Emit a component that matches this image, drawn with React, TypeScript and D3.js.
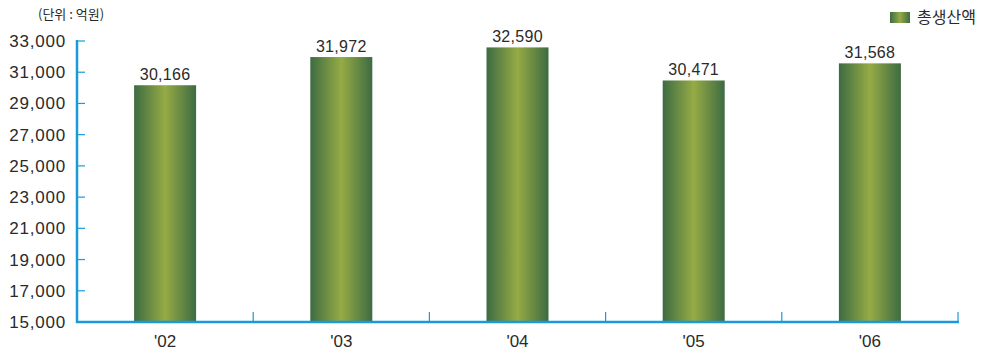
import React from "react";
import * as d3 from "d3";

const years = ["'02", "'03", "'04", "'05", "'06"];
const production = [30166, 31972, 32590, 30471, 31568];
const yTicks = [15000, 17000, 19000, 21000, 23000, 25000, 27000, 29000, 31000, 33000];
const seriesName = "총생산액";
const unitLabel = "(단위 : 억원)";

const W = 982;
const H = 352;
const left = 77;
const right = 958;
const top = 41;
const bottom = 322;
const axisColor = "#1a9ad9";
const font = "'Liberation Sans', Arial, sans-serif";
const textColor = "#2a2a2a";

export default function App() {
  const x = d3.scaleBand<string>().domain(years).range([left, right]).paddingInner(0).paddingOuter(0);
  const y = d3.scaleLinear().domain([15000, 33000]).range([bottom, top]);
  const barW = 62;
  const fmt = d3.format(",");

  return (
    <svg width={W} height={H} style={{ position: "absolute", left: 0, top: 0 }}>
      <defs>
        <linearGradient id="barGrad" x1="0" x2="1" y1="0" y2="0">
          <stop offset="0%" stopColor="#3d6b42" />
          <stop offset="50%" stopColor="#96ab45" />
          <stop offset="100%" stopColor="#3d6b42" />
        </linearGradient>
      </defs>

      {/* unit */}
      <text x={38} y={19} fontFamily="'Noto Sans CJK KR', sans-serif" fontSize={13} fill={textColor}>
        {unitLabel}
      </text>

      {/* legend */}
      <rect x={890} y={12} width={20} height={11} fill="url(#barGrad)" />
      <text x={917} y={23} fontFamily="'Noto Sans CJK KR', sans-serif" fontSize={16} fill={textColor}>
        {seriesName}
      </text>

      {/* bars */}
      {production.map((v, i) => {
        const cx = (x(years[i]) as number) + x.bandwidth() / 2;
        return (
          <g key={years[i]}>
            <rect x={cx - barW / 2} y={y(v)} width={barW} height={bottom - y(v)} fill="url(#barGrad)" />
            <text
              x={cx}
              y={y(v) - 5}
              textAnchor="middle"
              fontFamily={font}
              fontSize={16}
              letterSpacing={0.3}
              fill={textColor}
            >
              {fmt(v)}
            </text>
            <text x={cx} y={347} textAnchor="middle" fontFamily={font} fontSize={17} fill={textColor}>
              {years[i]}
            </text>
          </g>
        );
      })}

      {/* y axis */}
      {yTicks.map((t) => (
        <g key={t}>
          <line x1={left} x2={left + 8} y1={y(t)} y2={y(t)} stroke={axisColor} strokeWidth={1.2} />
          <text
            x={66}
            y={y(t) + 6}
            textAnchor="end"
            fontFamily={font}
            fontSize={17}
            letterSpacing={0.8}
            fill={textColor}
          >
            {fmt(t)}
          </text>
        </g>
      ))}
      <line x1={left} x2={left} y1={top - 1} y2={bottom + 1} stroke={axisColor} strokeWidth={2.5} />

      {/* x axis */}
      {years.map((c, i) => {
        const xr = (x(c) as number) + x.bandwidth();
        return (
          <line key={c} x1={xr} x2={xr} y1={bottom} y2={bottom - 10} stroke={axisColor} strokeWidth={1.2} />
        );
      })}
      <line x1={left - 1} x2={right + 1} y1={bottom} y2={bottom} stroke={axisColor} strokeWidth={2.5} />
    </svg>
  );
}
